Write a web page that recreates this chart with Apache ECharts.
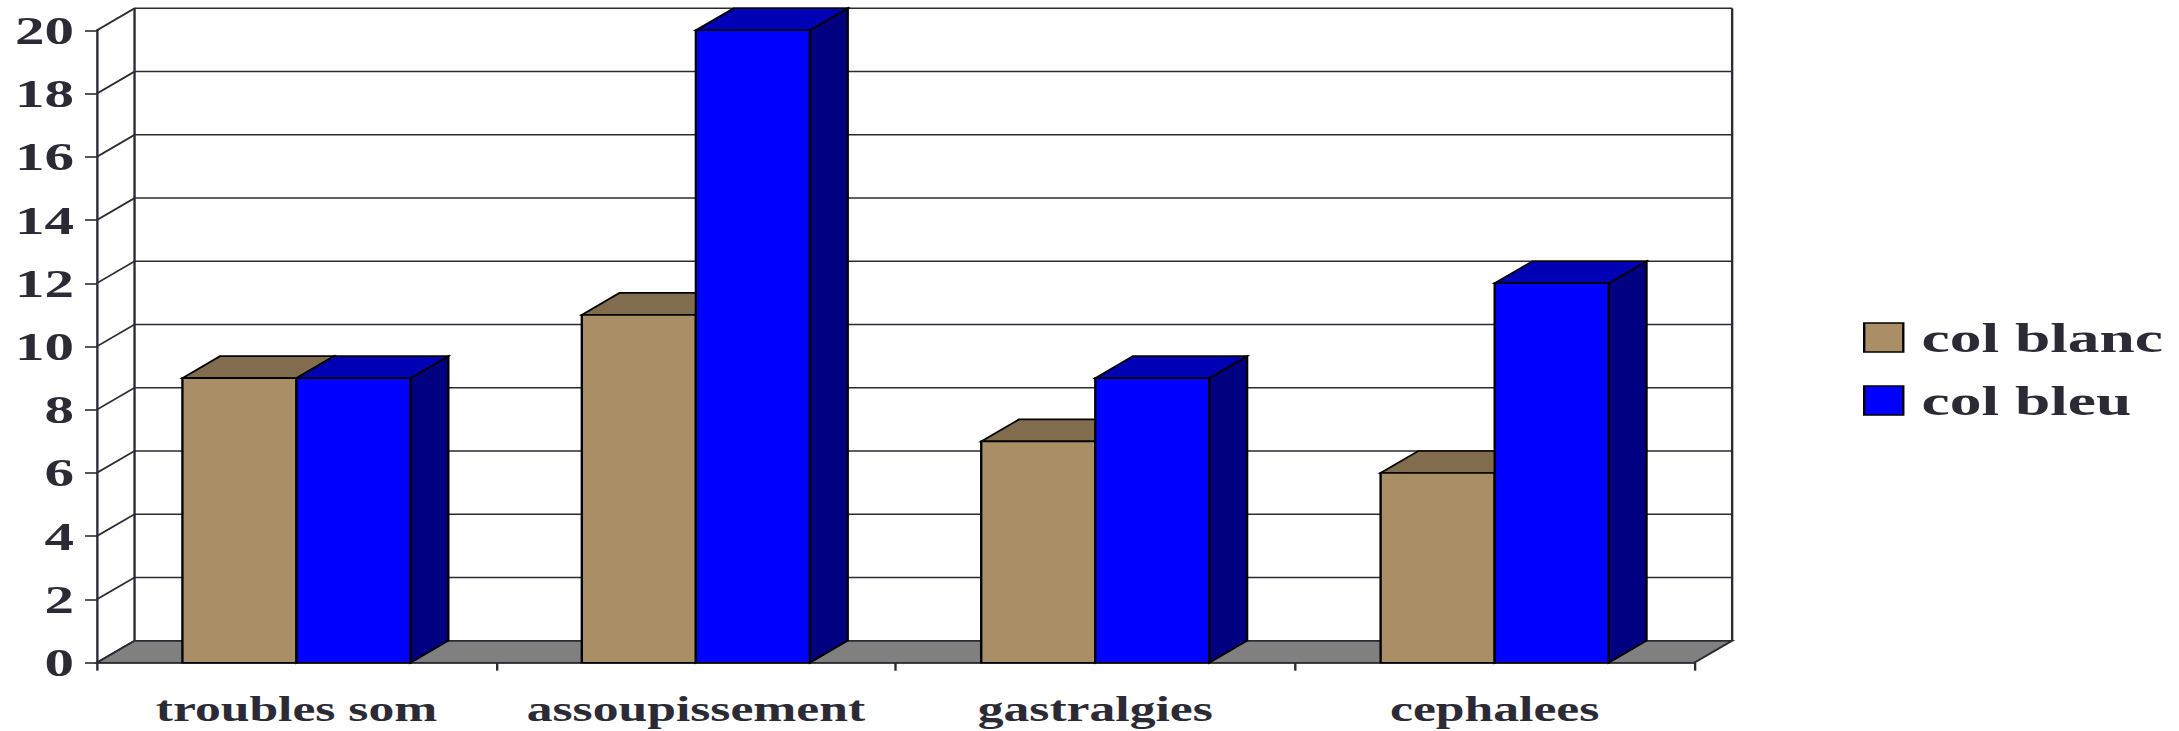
<!DOCTYPE html>
<html>
<head>
<meta charset="utf-8">
<script src="https://cdn.jsdelivr.net/npm/echarts@6/dist/echarts.min.js"></script>
<style>
  html, body { margin: 0; padding: 0; background: #ffffff; overflow: hidden; }
  /* The chart is laid out narrow and stretched sideways, like the wide lettering of the original slide */
  #chart { width: 1477px; height: 731px; transform: scaleX(1.4753); transform-origin: 0 0; }
</style>
</head>
<body>
<div id="chart"></div>
<script>
// ---- data ----
const categories = ['troubles som', 'assoupissement', 'gastralgies', 'cephalees'];
const seriesNames = ['col blanc', 'col bleu'];
const colBlanc = [9, 11, 7, 6];
const colBleu = [9, 20, 9, 12];
const yTicks = [0, 2, 4, 6, 8, 10, 12, 14, 16, 18, 20];

// ---- look ----
const DEPTH_X = 25.6;      // sideways shift of the back plane
const DEPTH_Y = 22;        // upward shift of the back plane
const INK = '#2b2a35';
const LINE_W = 1.6;
const BAR_FRACTION = 0.2856;   // share of a category band taken by one column
const FONT = 'Liberation Serif';

const palette = {
  blanc: { front: '#AA8E66', top: '#826C4E', side: '#5C4C37' },
  bleu:  { front: '#0000FF', top: '#0000B4', side: '#000080' }
};

const legendText = {
  fontFamily: FONT, fontWeight: 'bold', fontSize: 43, color: INK,
  padding: [0, 0, 0, 7.4]
};

const chart = echarts.init(document.getElementById('chart'), null, { renderer: 'svg' });

// floor and the two vertical edges of the back wall
function renderFrame(params, api) {
  const cs = params.coordSys;
  const x0 = cs.x, x1 = cs.x + cs.width;
  const yLow = api.coord([0, api.value(1)])[1];
  const yHigh = api.coord([0, api.value(2)])[1];
  return {
    type: 'group',
    children: [
      {
        type: 'polygon',
        shape: { points: [[x0, yLow], [x1, yLow], [x1 + DEPTH_X, yLow - DEPTH_Y], [x0 + DEPTH_X, yLow - DEPTH_Y]] },
        style: { fill: '#808080', stroke: INK, lineWidth: LINE_W }
      },
      {
        type: 'line',
        shape: { x1: x0 + DEPTH_X, y1: yLow - DEPTH_Y, x2: x0 + DEPTH_X, y2: yHigh - DEPTH_Y },
        style: { stroke: INK, lineWidth: LINE_W }
      },
      {
        type: 'line',
        shape: { x1: x1 + DEPTH_X, y1: yLow - DEPTH_Y, x2: x1 + DEPTH_X, y2: yHigh - DEPTH_Y },
        style: { stroke: INK, lineWidth: LINE_W }
      }
    ]
  };
}

// one gridline: slanted step from the front axis, then across the back wall
function renderGridLine(params, api) {
  const cs = params.coordSys;
  const x0 = cs.x, x1 = cs.x + cs.width;
  const y = api.coord([0, api.value(1)])[1];
  return {
    type: 'polyline',
    shape: { points: [[x0, y], [x0 + DEPTH_X, y - DEPTH_Y], [x1 + DEPTH_X, y - DEPTH_Y]] },
    style: { fill: null, stroke: INK, lineWidth: LINE_W }
  };
}

// a 3-D column: side face, top face, then front face
function makeColumnRenderer(slot, colors) {
  return function (params, api) {
    const i = api.value(0);
    const v = api.value(1);
    const topPt = api.coord([i, v]);
    const basePt = api.coord([i, 0]);
    const w = api.size([1, 0])[0] * BAR_FRACTION;
    const left = slot === 0 ? topPt[0] - w : topPt[0];
    const right = left + w;
    const yt = topPt[1], yb = basePt[1];
    const edge = { stroke: '#000000', lineWidth: LINE_W, lineJoin: 'miter' };
    return {
      type: 'group',
      children: [
        {
          type: 'polygon',
          shape: { points: [[right, yt], [right, yb], [right + DEPTH_X, yb - DEPTH_Y], [right + DEPTH_X, yt - DEPTH_Y]] },
          style: Object.assign({ fill: colors.side }, edge)
        },
        {
          type: 'polygon',
          shape: { points: [[left, yt], [right, yt], [right + DEPTH_X, yt - DEPTH_Y], [left + DEPTH_X, yt - DEPTH_Y]] },
          style: Object.assign({ fill: colors.top }, edge)
        },
        {
          type: 'rect',
          shape: { x: left, y: yt, width: w, height: yb - yt },
          style: Object.assign({ fill: colors.front }, edge)
        }
      ]
    };
  };
}

const option = {
  backgroundColor: '#ffffff',
  animation: false,
  grid: { left: 65.6, top: 30.3, width: 1082.9, height: 632.4, containLabel: false },
  legend: {
    orient: 'vertical',
    left: 1262.8,
    top: 316,
    padding: 0,
    itemWidth: 26.5,
    itemHeight: 29,
    itemGap: 20,
    icon: 'rect',
    selectedMode: false,
    textStyle: legendText,
    data: [
      { name: seriesNames[0], icon: 'rect', textStyle: legendText,
        itemStyle: { color: palette.blanc.front, borderColor: '#000000', borderWidth: 1.6 } },
      { name: seriesNames[1], icon: 'rect', textStyle: legendText,
        itemStyle: { color: palette.bleu.front, borderColor: '#000000', borderWidth: 1.6 } }
    ]
  },
  xAxis: {
    type: 'category',
    data: categories,
    boundaryGap: true,
    axisLine: { show: true, lineStyle: { color: INK, width: LINE_W } },
    axisTick: { show: true, length: 8, lineStyle: { color: INK, width: LINE_W } },
    axisLabel: {
      fontFamily: FONT, fontWeight: 'bold', fontSize: 35, color: INK,
      lineHeight: 35, margin: 29, interval: 0
    },
    splitLine: { show: false }
  },
  yAxis: {
    type: 'value',
    min: yTicks[0],
    max: yTicks[yTicks.length - 1],
    interval: 2,
    axisLine: { show: true, lineStyle: { color: INK, width: LINE_W } },
    axisTick: { show: true, length: 8, lineStyle: { color: INK, width: LINE_W } },
    axisLabel: { fontFamily: FONT, fontWeight: 'bold', fontSize: 40, color: INK, margin: 15.4 },
    splitLine: { show: false }
  },
  series: [
    {
      type: 'custom',
      name: 'floor',
      silent: true,
      clip: false,
      z: 1,
      renderItem: renderFrame,
      encode: { x: 0, y: 1 },
      data: [[0, yTicks[0], yTicks[yTicks.length - 1]]]
    },
    {
      type: 'custom',
      name: 'gridlines',
      silent: true,
      clip: false,
      z: 1,
      renderItem: renderGridLine,
      encode: { x: 0, y: 1 },
      data: yTicks.map(function (t) { return [0, t]; })
    },
    {
      type: 'custom',
      name: seriesNames[0],
      silent: true,
      clip: false,
      z: 3,
      itemStyle: { color: palette.blanc.front },
      renderItem: makeColumnRenderer(0, palette.blanc),
      encode: { x: 0, y: 1 },
      data: colBlanc.map(function (v, i) { return [i, v]; })
    },
    {
      type: 'custom',
      name: seriesNames[1],
      silent: true,
      clip: false,
      z: 3,
      itemStyle: { color: palette.bleu.front },
      renderItem: makeColumnRenderer(1, palette.bleu),
      encode: { x: 0, y: 1 },
      data: colBleu.map(function (v, i) { return [i, v]; })
    }
  ]
};

chart.setOption(option);
</script>
</body>
</html>
